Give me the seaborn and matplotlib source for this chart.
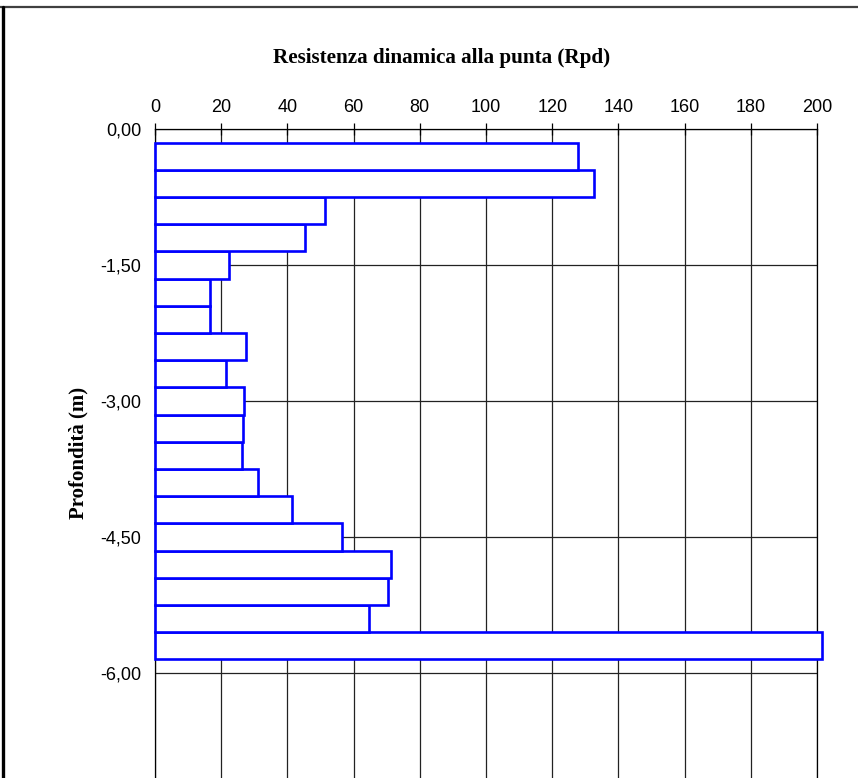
import numpy as np
import pandas as pd
import seaborn as sns
import matplotlib.pyplot as plt
from matplotlib.lines import Line2D

# penetrometer readings, one every 0.30 m
depth = [-0.3, -0.6, -0.9, -1.2, -1.5, -1.8, -2.1, -2.4, -2.7, -3.0,
         -3.3, -3.6, -3.9, -4.2, -4.5, -4.8, -5.1, -5.4, -5.7]
rpd = [127.9, 132.7, 51.5, 45.3, 22.5, 16.5, 16.5, 27.4, 21.5, 26.9,
       26.6, 26.4, 31.2, 41.5, 56.5, 71.4, 70.4, 64.8, 201.5]
x_ticks = [0, 20, 40, 60, 80, 100, 120, 140, 160, 180, 200]
y_ticks = [0.0, -1.5, -3.0, -4.5, -6.0]

df = pd.DataFrame({"Profondita": depth, "Rpd": rpd})

sns.set_theme(style="white")
plt.rcParams["font.family"] = ["Liberation Sans", "DejaVu Sans"]
plt.rcParams["text.color"] = "black"

fig = plt.figure(figsize=(8.58, 7.78), dpi=100)
ax = fig.add_axes([155 / 858, 0.0, (817 - 155) / 858, 1 - 129 / 778])

sns.barplot(data=df, x="Rpd", y="Profondita", orient="h", native_scale=True,
            width=1.0, color="white", saturation=1, edgecolor="#0000FF",
            linewidth=1.9, errorbar=None, ax=ax, zorder=3)
for p in ax.patches:
    p.set_clip_on(False)

ax.set_xticks(x_ticks)
ax.set_yticks(y_ticks)
ax.set_yticklabels([f"{v:.2f}".replace(".", ",") for v in y_ticks])
ax.set_xlim(0, 200)
ax.set_ylim(-(778 - 129) / 90.67, 0)
ax.xaxis.tick_top()
ax.tick_params(axis="both", direction="inout", length=8, width=0.9,
               color="black", labelsize=13, labelcolor="black")
ax.tick_params(axis="x", pad=5)
ax.tick_params(axis="y", pad=6)
ax.grid(True, color="#222222", linewidth=0.9)
ax.set_axisbelow(True)
ax.set_xlabel("")
ax.set_ylabel("")
for side in ["top", "left", "right"]:
    ax.spines[side].set_visible(True)
    ax.spines[side].set_color("black")
    ax.spines[side].set_linewidth(0.9)
ax.spines["bottom"].set_visible(False)

fig.text(442 / 858, 1 - 58 / 778, "Resistenza dinamica alla punta (Rpd)",
         ha="center", va="center", fontsize=15.2, fontweight="bold",
         family="Liberation Serif", color="black")
fig.text(78 / 858, 1 - 453 / 778, "Profondità (m)", rotation=90,
         ha="center", va="center", fontsize=15, fontweight="bold",
         family="Liberation Serif", color="black")

# outer frame of the sheet
fig.add_artist(Line2D([0, 1], [1 - 7 / 778, 1 - 7 / 778], color="#404040",
                      linewidth=1.6, transform=fig.transFigure))
fig.add_artist(Line2D([3 / 858, 3 / 858], [0, 1 - 7 / 778], color="black",
                      linewidth=2.4, transform=fig.transFigure))

fig.savefig("out.png", dpi=100)
